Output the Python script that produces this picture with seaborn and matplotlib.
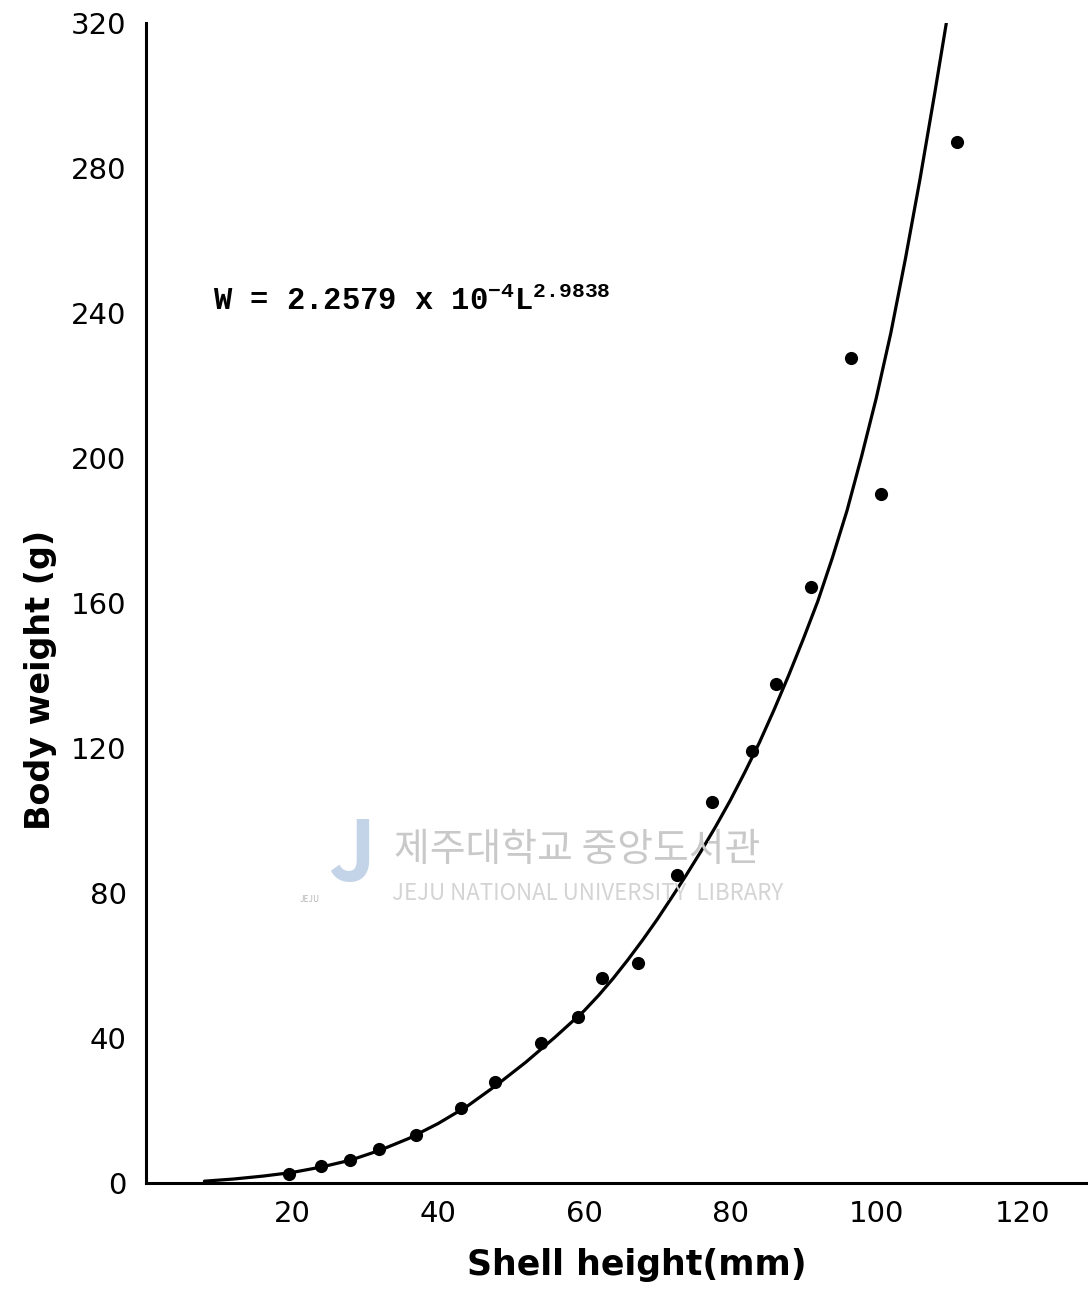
"""Shell height vs body weight with fitted power curve."""

import numpy as np
import pandas as pd
import matplotlib
matplotlib.use("Agg")
import matplotlib.pyplot as plt
import seaborn as sns

# DATA
shell_height = [19.6, 24.0, 27.9, 31.9, 37.0, 43.2, 47.8, 54.1, 59.2, 62.5,
                67.4, 72.7, 77.5, 83.0, 86.3, 91.1, 96.6, 100.7, 111.1]
body_weight = [2.5, 4.7, 6.3, 9.4, 13.2, 20.7, 27.9, 38.6, 45.8, 56.6,
               60.7, 85.0, 105.1, 119.2, 137.7, 164.4, 227.6, 190.1, 287.2]

# fitted curve as drawn in the figure
curve_x = [8, 12, 16, 20, 24, 28, 32, 36, 40, 44, 48, 52, 56, 60, 62, 64,
           66, 68, 70, 72, 74, 76, 78, 80, 82, 84, 86, 88, 90, 92, 94, 96,
           98, 100, 102, 104, 106, 108, 109.6]
curve_y = [0.5, 1.1, 1.9, 2.9, 4.4, 6.3, 9.0, 12.3, 16.4, 21.2, 27.0, 33.3,
           40.2, 47.5, 51.8, 56.5, 61.6, 67.0, 72.7, 78.8, 85.0, 91.5, 98.3,
           105.5, 113.3, 121.5, 130.5, 140.0, 150.0, 160.5, 172.5, 185.5,
           200.5, 216.5, 234.5, 255.0, 277.0, 300.5, 320.0]

x_ticks = [20, 40, 60, 80, 100, 120]
y_ticks = [0, 40, 80, 120, 160, 200, 240, 280, 320]

equation = "W = 2.2579 x 10$^{-4}$L$^{2.9838}$"

# STYLE
sns.set_style("white")
plt.rcParams['font.family'] = ['DejaVu Sans']
plt.rcParams['text.color'] = 'black'
plt.rcParams['axes.labelcolor'] = 'black'
plt.rcParams['mathtext.fontset'] = 'custom'
plt.rcParams['mathtext.rm'] = 'Liberation Mono:bold'
plt.rcParams['mathtext.it'] = 'Liberation Mono:bold'

df = pd.DataFrame({'height': shell_height, 'weight': body_weight})
curve = pd.DataFrame({'height': curve_x, 'weight': curve_y})

fig = plt.figure(figsize=(10.88, 12.93), dpi=100)
ax = fig.add_axes([146 / 1088, 110 / 1293, 942 / 1088, 1160 / 1293])

# library watermark (behind everything)
cjk = ['Noto Sans CJK KR', 'DejaVu Sans']
fig.text(352 / 1088, 1 - 856 / 1293, "J", fontsize=60, fontweight='bold',
         family=cjk, color='#c3d3e8', ha='center', va='center', zorder=0)
fig.text(310 / 1088, 1 - 900 / 1293, "JEJU", fontsize=6, family=cjk,
         color='#b5b5b5', ha='center', va='center', zorder=0)
fig.text(577 / 1088, 1 - 850 / 1293, "제주대학교 중앙도서관", fontsize=28,
         family=cjk, color='#c9c9c9', ha='center', va='center', zorder=0)
fig.text(588 / 1088, 1 - 894 / 1293, "JEJU NATIONAL UNIVERSITY  LIBRARY",
         fontsize=16, family=cjk, color='#d4d4d4',
         ha='center', va='center', zorder=0)

sns.lineplot(data=curve, x='height', y='weight', color='black', lw=2.3,
             sort=False, ax=ax, zorder=3)
sns.scatterplot(data=df, x='height', y='weight', color='black', s=90,
                edgecolor='black', linewidth=0, ax=ax, zorder=4)

ax.set_xlim(0, 129)
ax.set_ylim(0, 320)
ax.set_xticks(x_ticks)
ax.set_yticks(y_ticks)
ax.patch.set_alpha(0)

for side in ['top', 'right']:
    ax.spines[side].set_visible(False)
for side in ['left', 'bottom']:
    ax.spines[side].set_linewidth(2.2)
    ax.spines[side].set_color('black')

ax.tick_params(axis='both', direction='in', length=9, width=2, colors='black',
               labelsize=21)
ax.tick_params(axis='x', pad=12)
ax.tick_params(axis='y', pad=14)

ax.set_xlabel("Shell height(mm)", fontsize=25, fontweight='bold')
ax.set_ylabel("Body weight (g)", fontsize=24, fontweight='bold')
ax.xaxis.set_label_coords(0.521, -0.056)
ax.yaxis.set_label_coords(-0.094, 0.434)

ax.text(9.2, 240.8, equation, family='Liberation Mono', fontweight='bold',
        fontsize=22, va='baseline', ha='left', color='black')

fig.savefig("out.png", dpi=100)
